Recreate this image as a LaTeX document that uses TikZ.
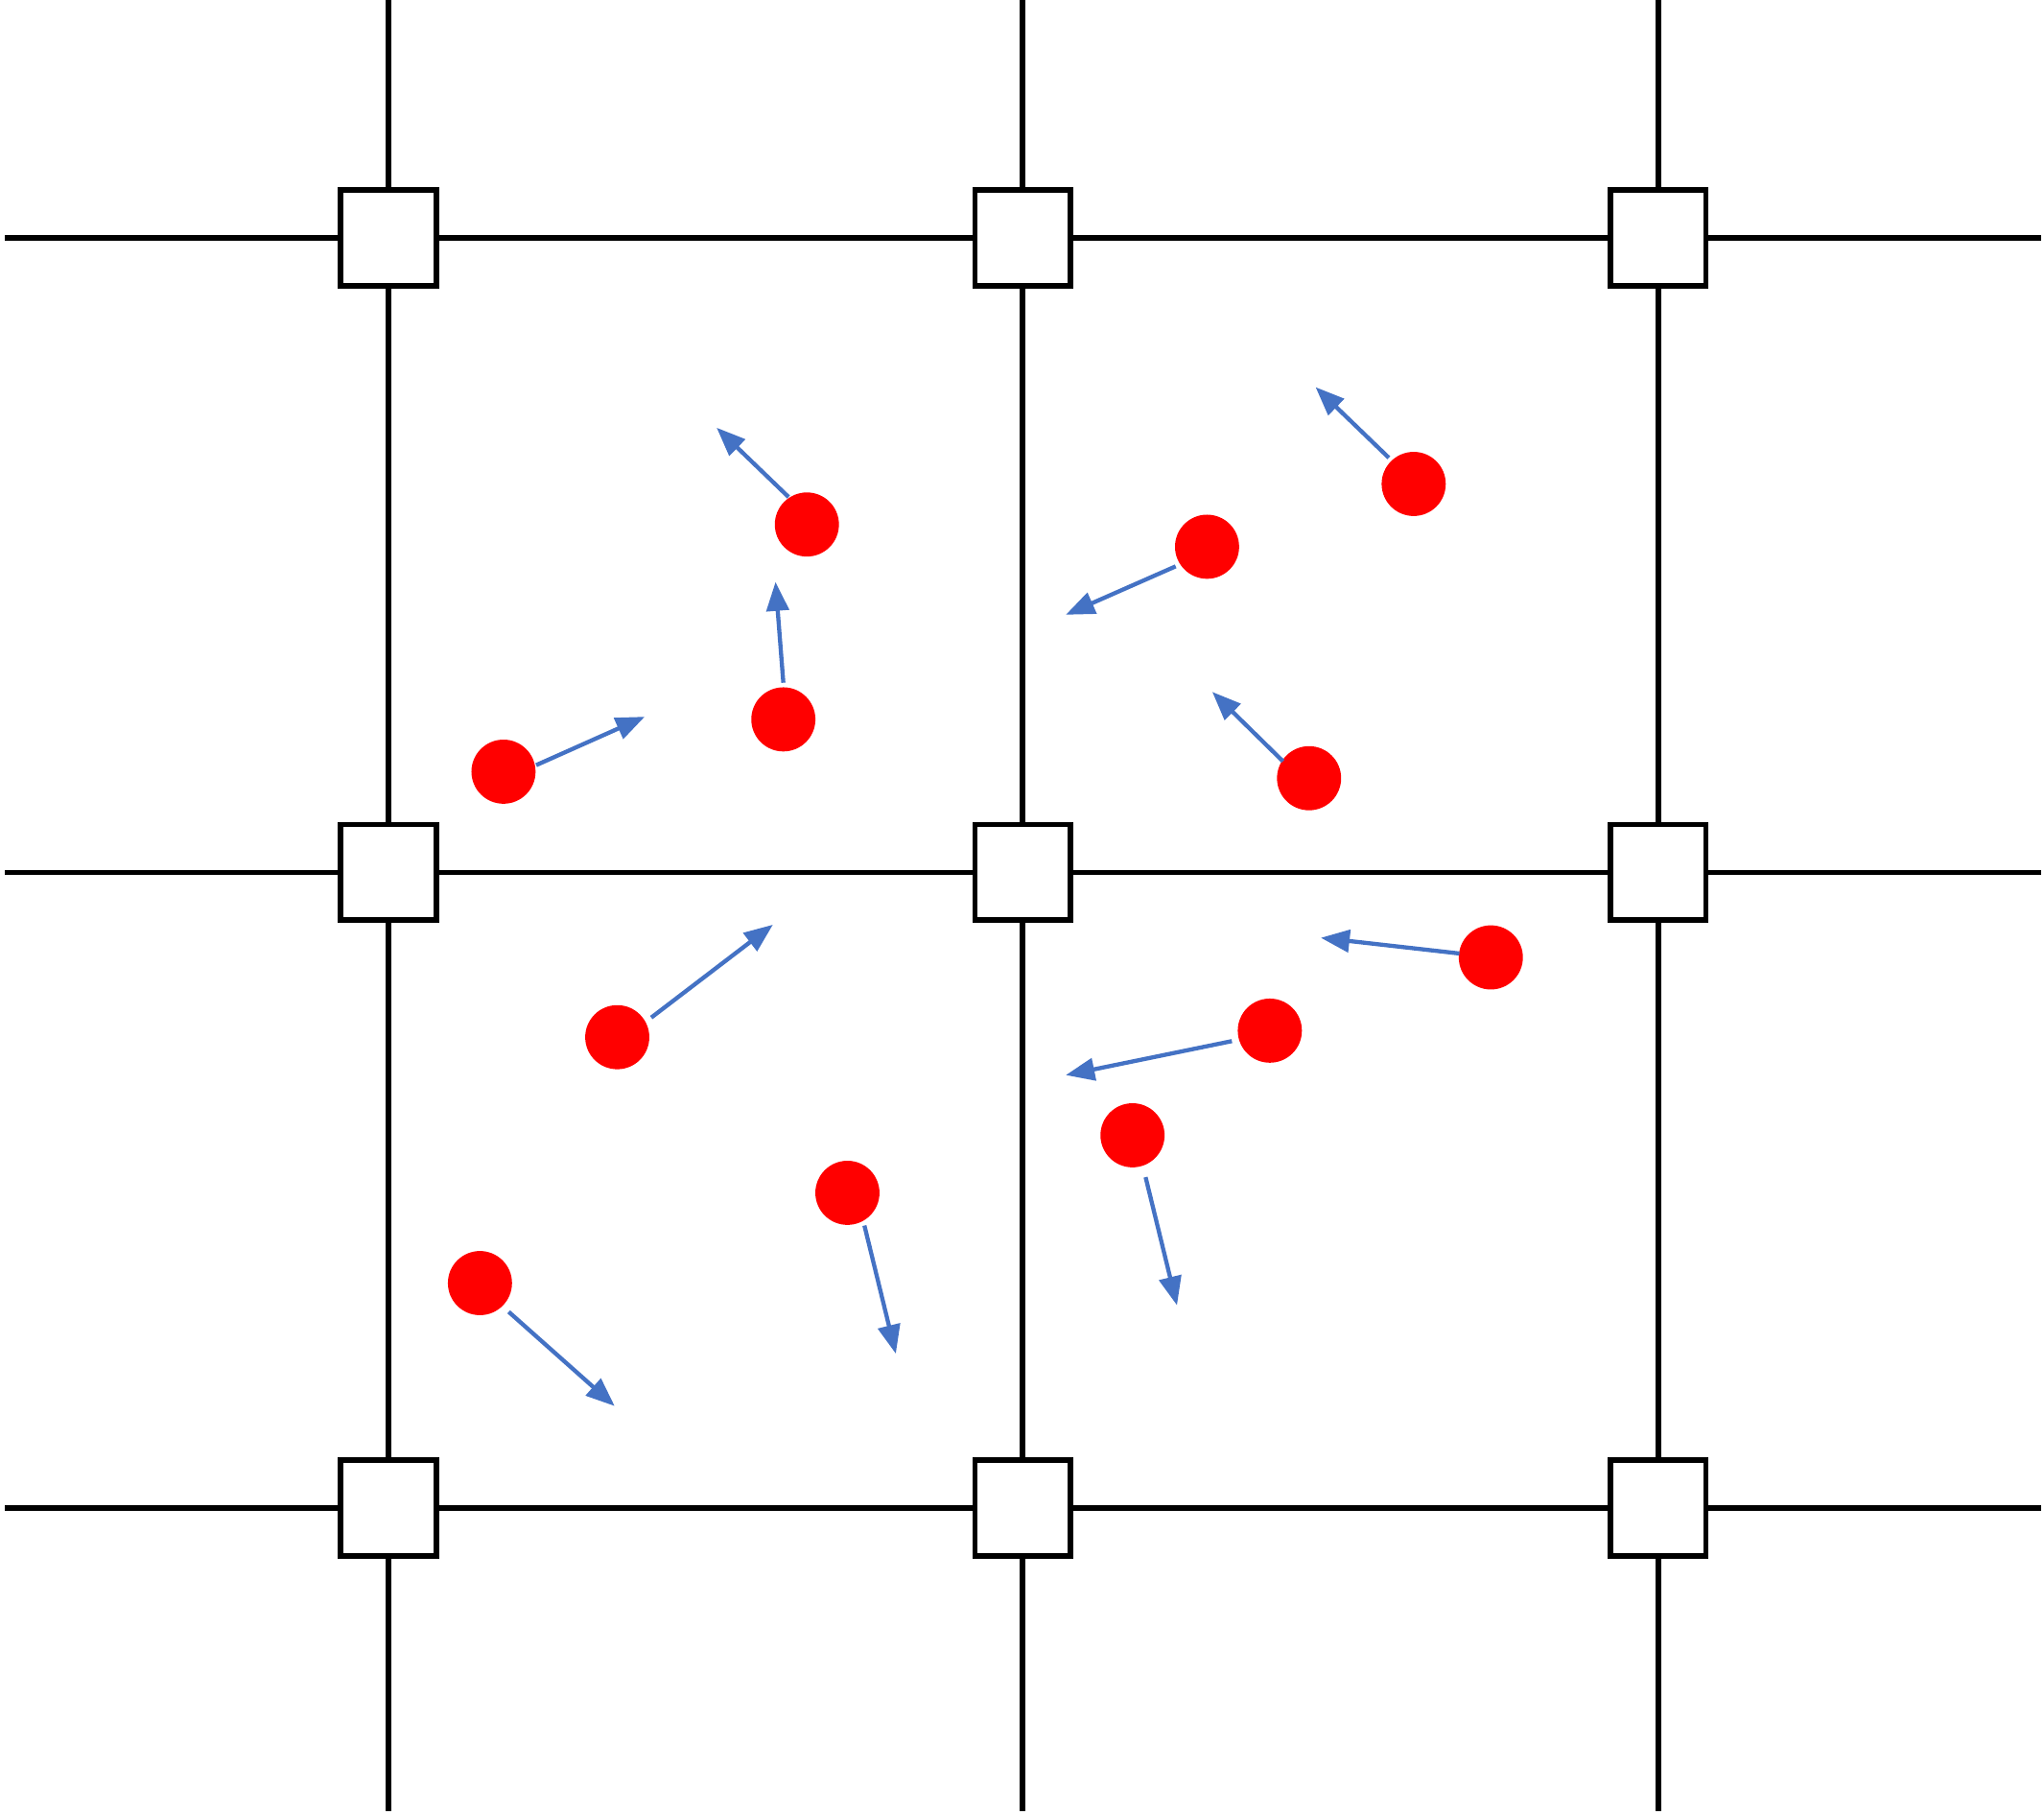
\documentclass[tikz,border=0pt]{standalone}
\usetikzlibrary{arrows.meta}
\tikzset{
  grid line/.style={line width=1.2pt, black},
  site/.style={rectangle, draw=black, line width=1.2pt, fill=white, minimum width=0.73cm, minimum height=0.73cm, inner sep=0pt},
  particle/.style={circle, fill=red, minimum size=0.49cm, inner sep=0pt},
  velocity/.style={line width=0.9pt, color={rgb,255:red,68;green,114;blue,196}, -{Triangle[length=0.22cm,width=0.17cm]}}
}
\begin{document}
\begin{tikzpicture}[x=0.01cm, y=-0.01cm]
\useasboundingbox (0,0) rectangle (1563,1387);

% --- Grid ---
\foreach \p in {297,782,1268} {
  \draw [grid line] (\p,0) -- (\p,1385);
}
\foreach \p in {182,667,1153} {
  \draw [grid line] (4,\p) -- (1561,\p);
}
\foreach \i/\x in {1/297,2/782,3/1268} {
  \foreach \j/\y in {1/182,2/667,3/1153} {
    \node (s\i\j) [site] at (\x,\y) {};
  }
}

% --- Particles and velocities ---
\foreach \n/\x/\y/\ax/\ay/\bx/\by in {
  1/617/401/603/380/548/327,
  2/599/550/599/522/593/445,
  3/385/590/410/585/493/548,
  4/923/418/899/433/815/470,
  5/1081/370/1062/350/1006/296,
  6/1001/595/981/582/927/529,
  7/1140/732/1116/729/1010/717,
  8/971/788/942/796/815/822,
  9/472/793/498/778/591/707,
  10/866/868/876/900/900/998,
  11/648/912/661/937/685/1035,
  12/367/981/389/1003/470/1075} {
  \node (p\n) [particle] at (\x,\y) {};
  \coordinate (v\n a) at (\ax,\ay);
  \coordinate (v\n b) at (\bx,\by);
  \draw [velocity] (v\n a) -- (v\n b);
}

\end{tikzpicture}
\end{document}
